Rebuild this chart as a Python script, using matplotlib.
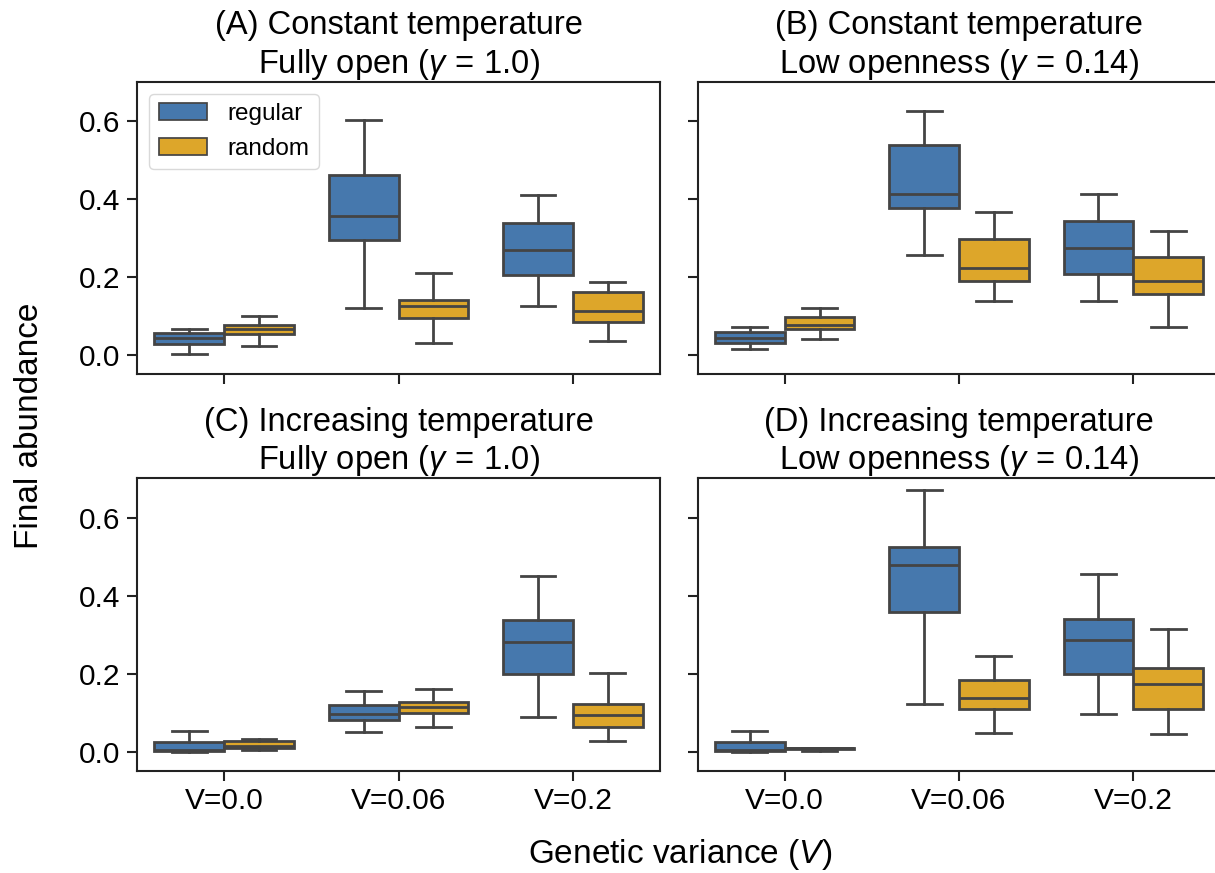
import matplotlib
matplotlib.use("Agg")
import matplotlib.pyplot as plt
from matplotlib.patches import Patch

plt.rcParams['font.family'] = ['Liberation Sans', 'DejaVu Sans']
plt.rcParams['mathtext.fontset'] = 'custom'
plt.rcParams['mathtext.rm'] = 'Liberation Sans'
plt.rcParams['mathtext.it'] = 'Liberation Sans:italic'

# Box stats: (whislo, q1, med, q3, whishi)
categories = ['V=0.0', 'V=0.06', 'V=0.2']
hues = ['regular', 'random']

panel_a_regular = [(0.003, 0.029, 0.043, 0.057, 0.068),
                   (0.120, 0.295, 0.356, 0.463, 0.604),
                   (0.127, 0.205, 0.269, 0.338, 0.411)]
panel_a_random = [(0.024, 0.054, 0.066, 0.077, 0.100),
                  (0.032, 0.095, 0.127, 0.141, 0.210),
                  (0.037, 0.084, 0.114, 0.161, 0.187)]

panel_b_regular = [(0.015, 0.031, 0.044, 0.060, 0.071),
                   (0.256, 0.377, 0.414, 0.538, 0.626),
                   (0.139, 0.207, 0.274, 0.345, 0.414)]
panel_b_random = [(0.042, 0.068, 0.078, 0.097, 0.121),
                  (0.138, 0.189, 0.224, 0.297, 0.366),
                  (0.073, 0.156, 0.191, 0.252, 0.319)]

panel_c_regular = [(0.000, 0.002, 0.004, 0.024, 0.054),
                   (0.050, 0.080, 0.097, 0.119, 0.156),
                   (0.088, 0.198, 0.282, 0.337, 0.450)]
panel_c_random = [(0.004, 0.008, 0.015, 0.026, 0.033),
                  (0.063, 0.098, 0.114, 0.128, 0.161),
                  (0.028, 0.063, 0.094, 0.121, 0.201)]

panel_d_regular = [(0.000, 0.001, 0.003, 0.024, 0.053),
                   (0.121, 0.359, 0.479, 0.525, 0.671),
                   (0.096, 0.198, 0.286, 0.341, 0.455)]
panel_d_random = [(0.001, 0.006, 0.008, 0.010, 0.010),
                  (0.048, 0.109, 0.137, 0.184, 0.246),
                  (0.046, 0.109, 0.174, 0.214, 0.315)]

titles = ['(A) Constant temperature\nFully open ($\\gamma\\,=\\,1.0$)',
          '(B) Constant temperature\nLow openness ($\\gamma\\,=\\,0.14$)',
          '(C) Increasing temperature\nFully open ($\\gamma\\,=\\,1.0$)',
          '(D) Increasing temperature\nLow openness ($\\gamma\\,=\\,0.14$)']
panels = [(panel_a_regular, panel_a_random), (panel_b_regular, panel_b_random),
          (panel_c_regular, panel_c_random), (panel_d_regular, panel_d_random)]

colors = ['#4678AD', '#DDA62A']
edge = '#444444'

fig = plt.figure(figsize=(12.15, 8.73), dpi=100)
W, H = 1215.0, 873.0
# axes rectangles in pixels: left, top, width, height
rects = [(137, 81.5, 523, 292.5), (697.5, 81.5, 523, 292.5),
         (137, 478, 523, 292.5), (697.5, 478, 523, 292.5)]
axes = []
for (l, t, w, h) in rects:
    axes.append(fig.add_axes([l / W, 1 - (t + h) / H, w / W, h / H]))


def to_stats(rows):
    out = []
    for lo, q1, med, q3, hi in rows:
        out.append(dict(whislo=lo, q1=q1, med=med, q3=q3, whishi=hi, fliers=[]))
    return out


for k, ax in enumerate(axes):
    for j, series in enumerate(panels[k]):
        pos = [i + (j - 0.5) * 0.4 for i in range(len(categories))]
        ax.bxp(to_stats(series), positions=pos, widths=0.4, patch_artist=True,
               showfliers=False, manage_ticks=False,
               boxprops=dict(facecolor=colors[j], edgecolor=edge, linewidth=2),
               medianprops=dict(color=edge, linewidth=2),
               whiskerprops=dict(color=edge, linewidth=2),
               capprops=dict(color=edge, linewidth=2))
    ax.set_xlim(-0.5, 2.5)
    ax.set_ylim(-0.0485, 0.7015)
    ax.set_xticks(range(len(categories)))
    ax.set_yticks([0.0, 0.2, 0.4, 0.6])
    ax.set_title(titles[k], fontsize=23.5, pad=3)
    ax.tick_params(length=7, width=1.5, labelsize=21.5, pad=5, color='#222222')
    for s in ax.spines.values():
        s.set_linewidth(1.5)
        s.set_color('#222222')
    if k < 2:
        ax.set_xticklabels([])
    else:
        ax.set_xticklabels(categories)
    if k % 2 == 1:
        ax.set_yticklabels([])
    else:
        ax.set_yticklabels(['0.0', '0.2', '0.4', '0.6'])

handles = [Patch(facecolor=colors[j], edgecolor=edge, linewidth=1.25, label=hues[j])
           for j in range(2)]
leg = axes[0].legend(handles=handles, loc='upper left', fontsize=17.5, frameon=True)
leg.get_frame().set_edgecolor('#d0d0d0')

fig.text(680 / W, 1 - 855 / H, 'Genetic variance ($\\mathit{V}$)', ha='center', va='center',
         fontsize=24)
fig.text(30 / W, 1 - 426 / H, 'Final abundance', ha='center', va='center',
         rotation=90, fontsize=24)

fig.savefig('out.png', dpi=100)
